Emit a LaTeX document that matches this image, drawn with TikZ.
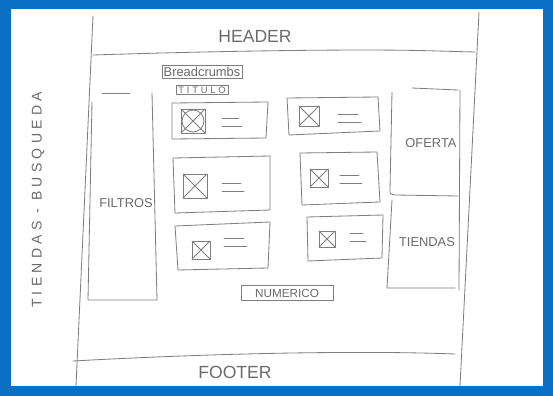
\documentclass[tikz,border=0pt]{standalone}
\usepackage{fontspec}
\setsansfont{Liberation Sans}
\usepackage{tikz}
\usetikzlibrary{positioning}
\definecolor{frameblue}{HTML}{0B6FC4}
\definecolor{pencil}{HTML}{7E7E7E}

\begin{document}
\begin{tikzpicture}[x=0.03cm, y=-0.03cm,
    sketch/.style={draw=pencil, line width=0.7pt, line cap=round, line join=round},
    lbl/.style={font=\sffamily\fontsize{#1}{#1}\selectfont, text=pencil!85!black, inner sep=1pt},
    spaced/.style={font=\sffamily\fontsize{#1}{#1}\selectfont\addfontfeature{LetterSpace=30}, text=pencil!85!black, inner sep=1pt},
    tagbox/.style={sketch, rectangle, inner sep=2pt},
]
    % frame
    \useasboundingbox (0,0) rectangle (553,396);
    \fill[frameblue] (0,0) rectangle (553,396);
    \fill[white] (11,9) rectangle (543,386);

    % page outline, header and footer
    \draw[sketch] (93,16) -- (76,386);
    \draw[sketch] (479,12) -- (460,386);
    \draw[sketch] (93,55) .. controls (250,50) and (380,49) .. (437,51) -- (475,52);
    \node[lbl=15] (header) at (255,36) {HEADER};
    \draw[sketch] (73,361) .. controls (200,354) and (350,350) .. (455,354);
    \node[lbl=15] (footer) at (235,372) {FOOTER};

    % side title
    \node[spaced=12, rotate=90] (section) at (38,200) {TIENDAS - BUSQUEDA};

    % filters column
    \draw[sketch] (102,93) -- (130,93);
    \draw[sketch] (92,102) -- (88,300) -- (157,300) -- (152,93);
    \node[lbl=11] (filtros) at (126,203) {FILTROS};

    % breadcrumbs and title
    \node[tagbox, lbl=11, inner sep=1.5pt] (crumbs) at (202,72) {Breadcrumbs};
    \node[tagbox, spaced=8, inner xsep=2pt, inner ysep=1pt] (titulo) at (202,90) {TITULO};

    % product cards
    \draw[sketch] (172,103) -- (268,102) -- (266,138) -- (172,139) -- cycle;
    \draw[sketch] (287,98) -- (378,97) -- (380,131) -- (289,135) -- cycle;
    \draw[sketch] (173,158) -- (270,156) -- (270,210) -- (175,213) -- cycle;
    \draw[sketch] (300,153) -- (377,152) -- (380,202) -- (302,205) -- cycle;
    \draw[sketch] (175,226) -- (270,222) -- (268,268) -- (178,270) -- cycle;
    \draw[sketch] (307,217) -- (383,215) -- (382,258) -- (308,261) -- cycle;

    % image placeholders
    \draw[sketch] (193,121) circle[radius=11];
    \foreach \cx/\cy/\h in {193/121/12, 309/116/10, 195/186/12, 319/178/9, 201/250/9, 327/239/8} {
        \draw[sketch] (\cx-\h,\cy-\h) rectangle (\cx+\h,\cy+\h);
        \draw[sketch] (\cx-\h,\cy-\h) -- (\cx+\h,\cy+\h);
        \draw[sketch] (\cx-\h,\cy+\h) -- (\cx+\h,\cy-\h);
    }

    % text lines
    \foreach \lx/\ly/\lw in {222/118/17, 338/114/20, 222/183/19, 340/175/19, 224/238/20, 350/233/13} {
        \draw[sketch] (\lx,\ly) -- ++(\lw,0);
        \draw[sketch] (\lx,\ly+8) -- ++(\lw+3,0);
    }

    % pagination
    \node[tagbox, lbl=10, minimum width=92*0.03cm, minimum height=15*0.03cm] (numerico) at (287,293) {NUMERICO};

    % right column
    \draw[sketch] (412,88) -- (458,90);
    \draw[sketch] (392,92) -- (390,190) .. controls (390,194) .. (395,195) -- (458,196);
    \draw[sketch] (460,90) -- (459,290);
    \draw[sketch] (392,200) -- (387,288) -- (455,288);
    \node[lbl=11] (oferta) at (431,143) {OFERTA};
    \node[lbl=11] (tiendas) at (427,242) {TIENDAS};
\end{tikzpicture}
\end{document}
